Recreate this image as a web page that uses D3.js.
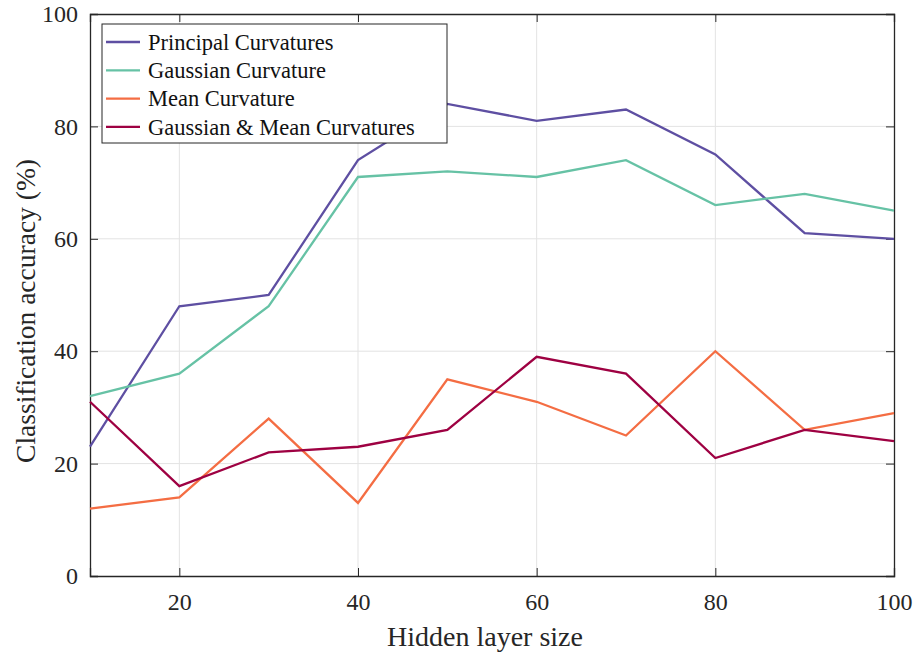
<!DOCTYPE html>
<html>
<head>
<meta charset="utf-8">
<script src="https://cdn.jsdelivr.net/npm/d3@7"></script>
<style>
  body { margin: 0; background: #fff; }
</style>
</head>
<body>
<script>
// values
var hiddenSizes = [10, 20, 30, 40, 50, 60, 70, 80, 90, 100];
var principal = [23, 48, 50, 74, 84, 81, 83, 75, 61, 60];
var gaussian = [32, 36, 48, 71, 72, 71, 74, 66, 68, 65];
var mean = [12, 14, 28, 13, 35, 31, 25, 40, 26, 29];
var gaussMean = [31, 16, 22, 23, 26, 39, 36, 21, 26, 24];

var seriesNames = ["Principal Curvatures", "Gaussian Curvature", "Mean Curvature", "Gaussian & Mean Curvatures"];
var seriesColors = ["#5e4fa2", "#66c2a5", "#f46d43", "#9e0142"];
var xTicks = [20, 40, 60, 80, 100];
var yTicks = [0, 20, 40, 60, 80, 100];

var series = [principal, gaussian, mean, gaussMean];
var serif = "'Liberation Serif', 'Times New Roman', 'DejaVu Serif', serif";

var width = 916, height = 657;
var margin = {top: 14, right: 22, bottom: 81, left: 90};
var w = width - margin.left - margin.right,
    h = height - margin.top - margin.bottom;

var svg = d3.select("body").append("svg")
  .attr("width", width)
  .attr("height", height);

var g = svg.append("g")
  .attr("transform", "translate(" + margin.left + "," + margin.top + ")");

var x = d3.scaleLinear().domain([10, 100]).range([0, w]);
var y = d3.scaleLinear().domain([0, 100]).range([h, 0]);

// grid
g.append("g").selectAll("line")
  .data(xTicks.filter(function(d){ return d < 100; }))
  .enter().append("line")
  .attr("x1", function(d){ return x(d); })
  .attr("x2", function(d){ return x(d); })
  .attr("y1", 0).attr("y2", h)
  .style("stroke", "#e3e3e3").style("stroke-width", 1);

g.append("g").selectAll("line")
  .data(yTicks.filter(function(d){ return d > 0 && d < 100; }))
  .enter().append("line")
  .attr("x1", 0).attr("x2", w)
  .attr("y1", function(d){ return y(d); })
  .attr("y2", function(d){ return y(d); })
  .style("stroke", "#e3e3e3").style("stroke-width", 1);

// axes, ticks inside
var xAxis = d3.axisBottom(x).tickValues(xTicks).tickSize(-8).tickPadding(17).tickFormat(d3.format("d"));
var yAxis = d3.axisLeft(y).tickValues(yTicks).tickSize(-8).tickPadding(12).tickFormat(d3.format("d"));

var gx = g.append("g").attr("transform", "translate(0," + h + ")").call(xAxis);
var gy = g.append("g").call(yAxis);
var gt = g.append("g").call(d3.axisTop(x).tickValues(xTicks).tickSize(-8).tickFormat(""));
var gr = g.append("g").attr("transform", "translate(" + w + ",0)")
  .call(d3.axisRight(y).tickValues(yTicks).tickSize(-8).tickFormat(""));

[gx, gy, gt, gr].forEach(function(a) {
  a.attr("font-family", null);
  a.select(".domain").style("stroke", "#262626").style("stroke-width", 1.3);
  a.selectAll(".tick line").style("stroke", "#262626").style("stroke-width", 1);
  a.selectAll(".tick text")
    .style("font-family", serif)
    .style("font-size", "24px")
    .style("fill", "#262626");
});

// lines
var line = d3.line()
  .x(function(d, i){ return x(hiddenSizes[i]); })
  .y(function(d){ return y(d); });

g.append("g").selectAll("path")
  .data(series)
  .enter().append("path")
  .attr("d", line)
  .style("fill", "none")
  .style("stroke", function(d, i){ return seriesColors[i]; })
  .style("stroke-width", 2.3);

// legend
var legend = g.append("g").attr("transform", "translate(12,10)");
legend.append("rect")
  .attr("width", 345).attr("height", 119)
  .style("fill", "#fff").style("stroke", "#262626").style("stroke-width", 1);

var items = legend.selectAll(".item")
  .data(seriesNames)
  .enter().append("g")
  .attr("transform", function(d, i){ return "translate(0," + (18 + i * 28.3) + ")"; });

items.append("line")
  .attr("x1", 4).attr("x2", 38)
  .style("stroke", function(d, i){ return seriesColors[i]; })
  .style("stroke-width", 2.3);

items.append("text")
  .attr("x", 46).attr("dy", "0.35em")
  .style("font-family", serif)
  .style("font-size", "22.5px")
  .style("fill", "#111")
  .text(function(d){ return d; });

// axis titles
svg.append("text")
  .attr("x", 485).attr("y", 646)
  .attr("text-anchor", "middle")
  .style("font-family", serif)
  .style("font-size", "28px")
  .style("fill", "#262626")
  .text("Hidden layer size");

svg.append("text")
  .attr("transform", "translate(35,311) rotate(-90)")
  .attr("text-anchor", "middle")
  .style("font-family", serif)
  .style("font-size", "27.5px")
  .style("fill", "#262626")
  .text("Classification accuracy (%)");
</script>
</body>
</html>
